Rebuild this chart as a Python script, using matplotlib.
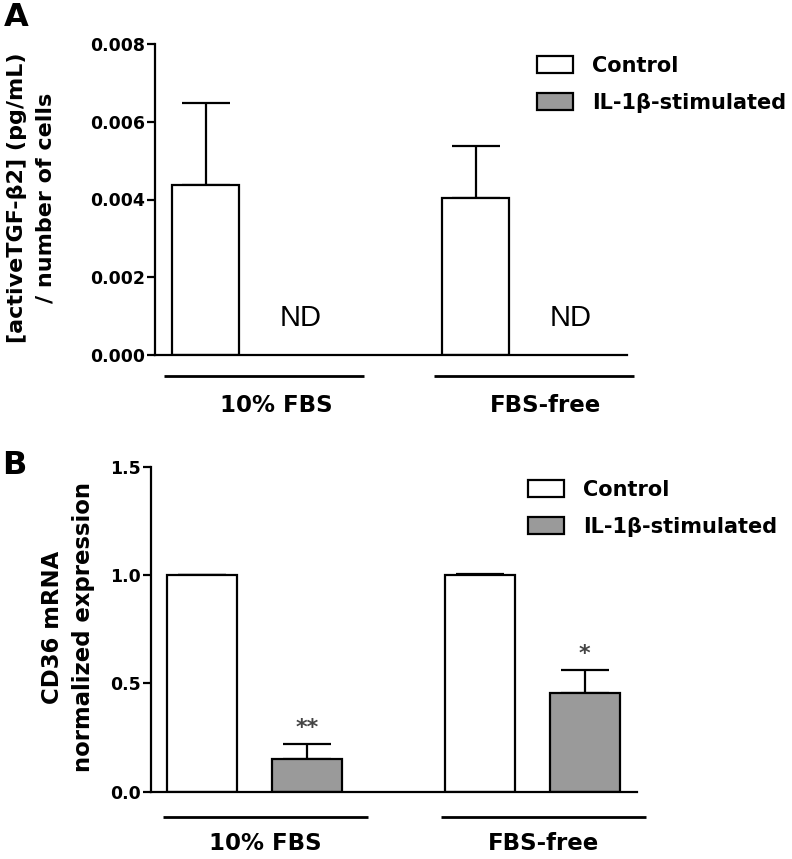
import matplotlib
matplotlib.use("Agg")
import matplotlib.pyplot as plt
from matplotlib.patches import Patch
import numpy as np

plt.rcParams['font.family'] = ['DejaVu Sans']

groups = ["10% FBS", "FBS-free"]
series = ["Control", "IL-1β-stimulated"]

# Panel A: active TGF-β2 per cell (IL-1β not detected -> ND)
a_control = [0.00437, 0.00404]
a_control_err = [0.00212, 0.00134]
a_il1b = [None, None]
a_yticks = [0.000, 0.002, 0.004, 0.006, 0.008]
a_yticklabels = ["0.000", "0.002", "0.004", "0.006", "0.008"]

# Panel B: CD36 mRNA normalized expression
b_control = [1.0, 1.0]
b_control_err = [0.0, 0.004]
b_il1b = [0.151, 0.457]
b_il1b_err = [0.070, 0.103]
b_sig = ["**", "*"]
b_yticks = [0.0, 0.5, 1.0, 1.5]
b_yticklabels = ["0.0", "0.5", "1.0", "1.5"]

W, H = 792, 859
fig = plt.figure(figsize=(W / 100, H / 100), dpi=100)

GRAY = "#9a9a9a"
LW = 1.6
TICKFS = 12.5
LABFS = 16
LEGFS = 15


def fig_rect(l, r, b, t):
    return [l / W, 1 - b / H, (r - l) / W, (b - t) / H]


def style_axis(ax, yticks, yticklabels, ylim):
    ax.set_ylim(*ylim)
    ax.set_yticks(yticks)
    ax.set_yticklabels(yticklabels, fontweight="bold", fontsize=TICKFS)
    ax.spines["top"].set_visible(False)
    ax.spines["right"].set_visible(False)
    ax.spines["left"].set_linewidth(LW)
    ax.spines["bottom"].set_linewidth(LW)
    ax.tick_params(axis="y", direction="out", length=6, width=LW, pad=1)
    ax.set_xticks([])


def group_lines(ax, xc, yline, ylab, lab_off):
    for i, g in enumerate(groups):
        ax.plot([xc[i] - 0.33, xc[i] + 0.41], [yline, yline], color="black",
                lw=2.0, transform=ax.get_xaxis_transform(), clip_on=False,
                solid_capstyle="butt")
        ax.text(xc[i] + lab_off, ylab, g, transform=ax.get_xaxis_transform(),
                ha="center", va="baseline", fontsize=16.5, fontweight="bold")


def add_legend(x, y):
    handles = [Patch(facecolor="white", edgecolor="black", linewidth=LW),
               Patch(facecolor=GRAY, edgecolor="black", linewidth=LW)]
    leg = fig.legend(handles, series, loc="upper left",
                     bbox_to_anchor=(x / W, 1 - y / H), frameon=False,
                     borderpad=0, borderaxespad=0, handlelength=1.73,
                     handleheight=0.9, handletextpad=0.9, labelspacing=0.8,
                     prop={"weight": "bold", "size": LEGFS})
    return leg


# ---------- Panel A ----------
axA = fig.add_axes(fig_rect(155, 627, 355, 44))
xc = np.arange(len(groups))
off, wid = 0.35, 0.248
axA.bar(xc - off / 2, a_control, width=wid, color="white", edgecolor="black",
        linewidth=LW, zorder=2)
axA.errorbar(xc - off / 2, a_control,
             yerr=[np.zeros(len(a_control)), a_control_err], fmt="none",
             ecolor="black", elinewidth=LW, capsize=17, capthick=LW, zorder=1)
for i, v in enumerate(a_il1b):
    if v is None:
        axA.text(xc[i] + off / 2, 0.00095, "ND", ha="center", va="center",
                 fontsize=21, family="Liberation Sans")
axA.set_xlim((155 - 253) / 270, (627 - 253) / 270)
style_axis(axA, a_yticks, a_yticklabels, (0, 0.008))
fig.text(31 / W, 1 - 198 / H, "[activeTGF-β2] (pg/mL)\n/ number of cells",
         rotation=90, ha="center", va="center", fontweight="bold",
         fontsize=LABFS, linespacing=1.55, multialignment="center")
group_lines(axA, xc, -0.0675, -0.183, 0.085)
add_legend(537, 56)
fig.text(4 / W, 1 - 18 / H, "A", fontsize=23, fontweight="bold",
         ha="left", va="center")

# ---------- Panel B ----------
axB = fig.add_axes(fig_rect(151, 637, 791.7, 467))
offB, widB = 0.376, 0.252
axB.bar(xc - offB / 2, b_control, width=widB, color="white",
        edgecolor="black", linewidth=LW, zorder=2)
axB.bar(xc + offB / 2, b_il1b, width=widB, color=GRAY,
        edgecolor="black", linewidth=LW, zorder=2)
axB.errorbar(xc - offB / 2, b_control,
             yerr=[np.zeros(2), b_control_err], fmt="none",
             ecolor="black", elinewidth=LW, capsize=17, capthick=LW, zorder=1)
axB.errorbar(xc + offB / 2, b_il1b,
             yerr=[np.zeros(2), b_il1b_err], fmt="none",
             ecolor="black", elinewidth=LW, capsize=17, capthick=LW, zorder=1)
for i, s in enumerate(b_sig):
    axB.text(xc[i] + offB / 2, b_il1b[i] + b_il1b_err[i] + 0.075, s,
             ha="center", va="center", fontsize=16, color="#444444",
             fontweight="bold")
axB.set_xlim((151 - 254.5) / 278, (637 - 254.5) / 278)
style_axis(axB, b_yticks, b_yticklabels, (0, 1.5))
fig.text(68 / W, 1 - 627 / H, "CD36 mRNA\nnormalized expression",
         rotation=90, ha="center", va="center", fontweight="bold",
         fontsize=16.4, linespacing=1.45, multialignment="center")
group_lines(axB, xc, -0.078, -0.18, 0.04)
add_legend(528, 480)
fig.text(2 / W, 1 - 465 / H, "B", fontsize=23, fontweight="bold",
         ha="left", va="center")

fig.savefig("out.png", dpi=100)
